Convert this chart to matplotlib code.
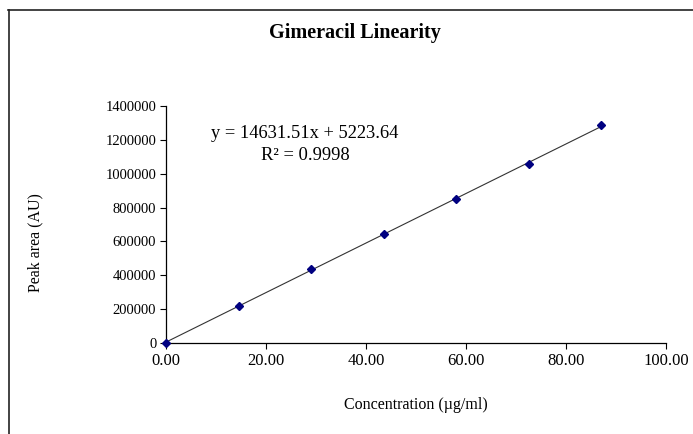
import matplotlib
matplotlib.use("Agg")
import matplotlib.pyplot as plt
import numpy as np
from matplotlib.lines import Line2D

conc = [0.0, 14.5, 29.0, 43.5, 58.0, 72.5, 87.0]
area = [0, 216000, 440000, 642000, 851000, 1055000, 1285000]
slope = 14631.51
intercept = 5223.64
r2 = 0.9998
x_ticks = [0, 20, 40, 60, 80, 100]
y_ticks = [0, 200000, 400000, 600000, 800000, 1000000, 1200000, 1400000]

plt.rcParams['font.family'] = ['Liberation Serif', 'DejaVu Serif']

fig = plt.figure(figsize=(6.93, 4.34), dpi=100)
W, H = 693, 434
ax = fig.add_axes([166/W, 1-343/H, (666-166)/W, (343-106)/H])

xs = np.array([0, max(conc)])
ax.plot(xs, slope*xs + intercept, color='#333333', lw=0.8, zorder=2)
ax.plot(conc, area, linestyle='none', marker='D', markersize=4,
        color='#000080', zorder=3, clip_on=False)

ax.set_xlim(0, 100)
ax.set_ylim(0, 1400000)
ax.set_xticks(x_ticks)
ax.set_xticklabels([f"{v:.2f}" for v in x_ticks], fontsize=12)
ax.set_yticks(y_ticks)
ax.set_yticklabels([str(v) for v in y_ticks], fontsize=10.5)
ax.tick_params(direction='out', length=4, width=0.8, color='black')
ax.tick_params(axis='x', pad=3)
ax.tick_params(axis='y', pad=3)
for s in ['top', 'right']:
    ax.spines[s].set_visible(False)
for s in ['left', 'bottom']:
    ax.spines[s].set_linewidth(0.9)

fig.text(355/W, 1-33/H, 'Gimeracil Linearity', ha='center', va='center',
         fontsize=14.5, fontweight='bold')
fig.text(416/W, 1-405/H, 'Concentration (µg/ml)', ha='center', va='center', fontsize=11.5)
fig.text(35/W, 1-243/H, 'Peak area (AU)', ha='center', va='center', fontsize=11.5,
         rotation=90)
fig.text(305/W, 1-133/H, f'y = {slope:.2f}x + {intercept:.2f}', ha='center',
         va='center', fontsize=13.3)
fig.text(305/W, 1-155/H, f'R² = {r2}', ha='center', va='center', fontsize=13.3)

fig.add_artist(Line2D([8.5/W, 8.5/W], [0, 1-10/H], transform=fig.transFigure,
                      color='#222222', lw=1.2))
fig.add_artist(Line2D([8/W, 1], [1-10/H, 1-10/H], transform=fig.transFigure,
                      color='#222222', lw=1.2))

fig.savefig('out.png', dpi=100)
